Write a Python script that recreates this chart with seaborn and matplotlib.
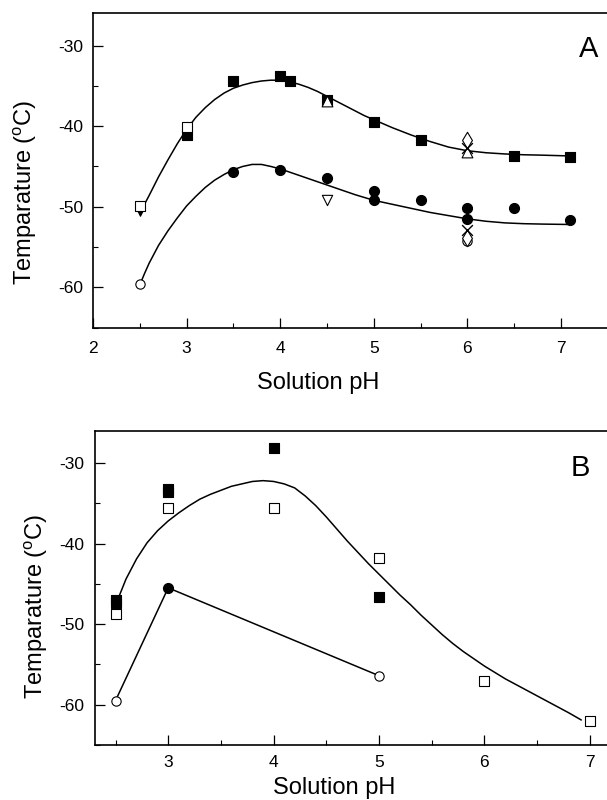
import matplotlib
matplotlib.use("Agg")
import matplotlib.pyplot as plt
from matplotlib.ticker import MultipleLocator
import seaborn as sns

# ---------------- Panel A data ----------------
a_fill_sq_ph = [3.0, 3.5, 4.0, 4.1, 4.5, 5.0, 5.5, 6.5, 7.1]
a_fill_sq_t = [-41.05, -34.4, -33.8, -34.45, -36.7, -39.5, -41.7, -43.7, -43.8]
a_open_sq_ph = [2.5, 3.0]
a_open_sq_t = [-49.9, -40.1]
a_fill_tri_ph = [2.5]
a_fill_tri_t = [-50.6]
a_open_tri_up_ph = [4.5, 6.0]
a_open_tri_up_t = [-36.9, -43.2]
a_open_tri_dn_ph = [4.5]
a_open_tri_dn_t = [-49.1]
a_diamond_ph = [6.0, 6.0]
a_diamond_t = [-41.7, -53.9]
a_cross_ph = [6.0, 6.0]
a_cross_t = [-42.7, -52.9]
a_fill_circ_ph = [3.5, 4.0, 4.5, 5.0, 5.0, 5.5, 6.0, 6.0, 6.5, 7.1]
a_fill_circ_t = [-45.7, -45.4, -46.4, -48.0, -49.1, -49.2, -50.1, -51.5, -50.1, -51.7]
a_open_circ_ph = [2.5, 6.0]
a_open_circ_t = [-59.6, -54.2]

a_upper_ph = [2.5, 2.6, 2.7, 2.8, 2.9, 3.0, 3.1, 3.2, 3.3, 3.4, 3.5, 3.6, 3.7,
              3.8, 3.9, 4.0, 4.1, 4.2, 4.3, 4.4, 4.5, 4.6, 4.7, 4.8, 4.9, 5.0,
              5.2, 5.4, 5.6, 5.8, 6.0, 6.2, 6.4, 6.6, 6.8, 7.1]
a_upper_t = [-50.8, -48.6, -46.3, -44.2, -42.2, -40.4, -38.9, -37.7, -36.7,
             -35.9, -35.3, -34.9, -34.6, -34.4, -34.3, -34.3, -34.5, -34.8,
             -35.2, -35.7, -36.3, -36.9, -37.5, -38.1, -38.7, -39.2, -40.2,
             -41.1, -41.9, -42.6, -43.05, -43.3, -43.45, -43.55, -43.6, -43.7]
a_lower_ph = [2.5, 2.55, 2.6, 2.65, 2.7, 2.8, 2.9, 3.0, 3.1, 3.2, 3.3, 3.4, 3.5,
              3.6, 3.7, 3.8, 3.9, 4.0, 4.1, 4.2, 4.4, 4.6, 4.8, 5.0, 5.2, 5.4,
              5.6, 5.8, 6.0, 6.2, 6.4, 6.6, 6.8, 7.1]
a_lower_t = [-59.7, -58.3, -57.0, -55.9, -54.8, -53.0, -51.4, -49.9, -48.7,
             -47.6, -46.7, -46.0, -45.4, -45.0, -44.75, -44.75, -45.0, -45.3,
             -45.7, -46.1, -46.9, -47.7, -48.5, -49.2, -49.7, -50.2, -50.7,
             -51.1, -51.5, -51.8, -52.0, -52.1, -52.15, -52.2]

# ---------------- Panel B data ----------------
b_fill_sq_ph = [2.5, 2.5, 3.0, 3.0, 4.0, 5.0]
b_fill_sq_t = [-47.0, -47.4, -33.2, -33.6, -28.2, -46.6]
b_open_sq_ph = [2.5, 3.0, 4.0, 5.0, 6.0, 7.0]
b_open_sq_t = [-48.7, -35.6, -35.6, -41.8, -57.1, -62.0]
b_circ_ph = [2.5, 3.0, 5.0]
b_circ_t = [-59.5, -45.5, -56.4]
b_circ_filled = [False, True, False]

b_upper_ph = [2.52, 2.6, 2.7, 2.8, 2.9, 3.0, 3.1, 3.2, 3.3, 3.4, 3.5, 3.6, 3.7,
              3.8, 3.9, 4.0, 4.1, 4.2, 4.3, 4.4, 4.5, 4.6, 4.7, 4.8, 4.9, 5.0,
              5.1, 5.2, 5.3, 5.4, 5.5, 5.6, 5.7, 5.8, 5.9, 6.0, 6.1, 6.2, 6.3,
              6.4, 6.5, 6.6, 6.7, 6.8, 6.92]
b_upper_t = [-47.0, -44.4, -41.9, -39.9, -38.4, -37.2, -36.2, -35.3, -34.5,
             -33.9, -33.4, -32.9, -32.6, -32.3, -32.2, -32.3, -32.6, -33.1,
             -34.1, -35.3, -36.7, -38.2, -39.7, -41.1, -42.5, -43.8, -45.1,
             -46.4, -47.6, -48.9, -50.1, -51.3, -52.4, -53.4, -54.3, -55.2,
             -56.0, -56.8, -57.5, -58.2, -58.9, -59.6, -60.3, -61.0, -61.9]

x_label = "Solution pH"
y_label = r"Temparature ($^\mathregular{o}$C)"

sns.set_theme(style="ticks")
plt.rcParams["font.family"] = ["Liberation Sans", "DejaVu Sans"]
plt.rcParams["axes.unicode_minus"] = False
plt.rcParams["axes.edgecolor"] = "black"
plt.rcParams["axes.linewidth"] = 1.2

fig = plt.figure(figsize=(6.07, 8.0), dpi=100)
ax_a = fig.add_axes([0.1532, 0.5904, 0.848, 0.393])
ax_b = fig.add_axes([0.1573, 0.06875, 0.849, 0.3929])

MS_SQ = 46
MS_CI = 52


def pts(ax, x, y, marker, filled=True, s=MS_SQ, lw=0.8):
    face = "black" if filled else "white"
    sns.scatterplot(x=x, y=y, ax=ax, marker=marker, s=s, color=face,
                    edgecolor="black", linewidth=lw, zorder=3, legend=False)


def cross(ax, x, y, s=60):
    sns.scatterplot(x=x, y=y, ax=ax, marker="x", s=s, color="black",
                    linewidth=1.0, zorder=4, legend=False)


def curve(ax, x, y):
    sns.lineplot(x=x, y=y, ax=ax, color="black", linewidth=1.1,
                 sort=False, estimator=None, zorder=2)


def style_axes(ax, xlim, ylim, xmaj, xlab_pos, ylab_pos, xpad, ypad, letter, letter_pos):
    ax.set_xlim(*xlim)
    ax.set_ylim(*ylim)
    ax.xaxis.set_major_locator(MultipleLocator(xmaj))
    ax.xaxis.set_minor_locator(MultipleLocator(0.5))
    ax.yaxis.set_major_locator(MultipleLocator(10))
    ax.yaxis.set_minor_locator(MultipleLocator(5))
    ax.tick_params(which="major", direction="in", length=7, width=0.9,
                   color="black", labelsize=12.5, labelcolor="black")
    ax.tick_params(which="minor", direction="in", length=3.5, width=0.8,
                   color="black")
    ax.tick_params(axis="x", which="major", pad=xpad)
    ax.tick_params(axis="y", which="major", pad=ypad)
    ax.tick_params(top=False, right=False, which="both")
    ax.set_xlabel(x_label, fontsize=17, color="black")
    ax.set_ylabel(y_label, fontsize=17, color="black")
    ax.xaxis.set_label_coords(*xlab_pos)
    ax.xaxis.label.set_verticalalignment("center")
    ax.yaxis.set_label_coords(*ylab_pos)
    ax.yaxis.label.set_verticalalignment("center")
    ax.text(letter_pos[0], letter_pos[1], letter, fontsize=21, ha="center",
            va="center", color="black")
    ax.grid(False)


# ---------------- Panel A ----------------
curve(ax_a, a_upper_ph, a_upper_t)
curve(ax_a, a_lower_ph, a_lower_t)
pts(ax_a, a_fill_sq_ph, a_fill_sq_t, "s", True)
pts(ax_a, a_fill_tri_ph, a_fill_tri_t, "v", True, s=30)
pts(ax_a, a_open_sq_ph, a_open_sq_t, "s", False, s=55)
pts(ax_a, a_open_tri_up_ph, a_open_tri_up_t, "^", False, s=60)
pts(ax_a, a_open_tri_dn_ph, a_open_tri_dn_t, "v", False, s=55)
pts(ax_a, a_fill_circ_ph, a_fill_circ_t, "o", True, s=MS_CI)
pts(ax_a, a_open_circ_ph, a_open_circ_t, "o", False, s=45)
pts(ax_a, a_diamond_ph, a_diamond_t, "d", False, s=70)
cross(ax_a, a_cross_ph, a_cross_t)
style_axes(ax_a, (2, 7.5), (-65, -26), 1, (0.437, -0.176), (-0.132, 0.43),
           9.5, 7, "A", (7.3, -30.4))

# ---------------- Panel B ----------------
curve(ax_b, b_upper_ph, b_upper_t)
curve(ax_b, b_circ_ph, b_circ_t)
pts(ax_b, b_fill_sq_ph, b_fill_sq_t, "s", True)
pts(ax_b, b_open_sq_ph, b_open_sq_t, "s", False)
for px, pt, f in zip(b_circ_ph, b_circ_t, b_circ_filled):
    pts(ax_b, [px], [pt], "o", f, s=MS_CI if f else 45)
style_axes(ax_b, (2.31, 7.2), (-65, -26), 1, (0.463, -0.137), (-0.115, 0.44),
           7.5, 8, "B", (6.91, -30.6))

fig.savefig("out.png", dpi=100, facecolor="white")
